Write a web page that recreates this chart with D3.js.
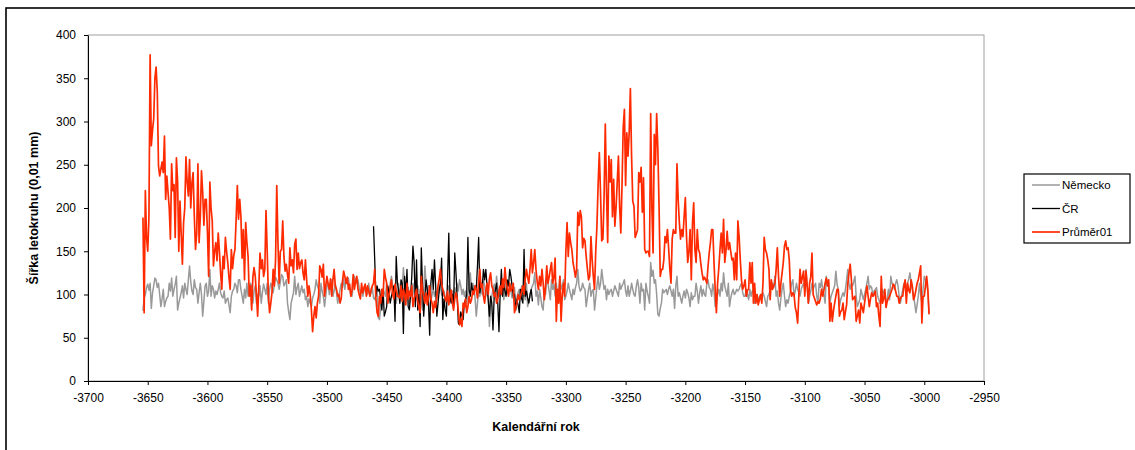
<!DOCTYPE html>
<html>
<head>
<meta charset="utf-8">
<script src="https://cdn.jsdelivr.net/npm/d3@7"></script>
<style>
  html, body { margin: 0; padding: 0; background: #fff; }
  text { font-family: "Liberation Sans", Arial, sans-serif; }
</style>
</head>
<body>
<svg id="chart" width="1135" height="450"></svg>
<script>
// ---------------- DATA ----------------
const xTicks = [-3700,-3650,-3600,-3550,-3500,-3450,-3400,-3350,-3300,-3250,-3200,-3150,-3100,-3050,-3000,-2950];
const yTicks = [0,50,100,150,200,250,300,350,400];
const seriesNames = ["Německo", "ČR", "Průměr01"];

// Německo (gray): yearly values from -3654 to -2996
const nemeckoStart = -3654;
const nemeckoValues = [
  81,96,100,108,112,105,113, 84,102,110,119,117,108,113, 100,86,95,106,86,92,96,
  98,113,104,119,98,106,112, 121,82,90,96,102,110,96, 113,106,100,117,133,115,104,
  100,117,108,106,90,102,113, 100,75,92,110,113,98,104, 129,98,110,106,96,104,100,
  106,113,102,98,96,104,90, 94,96,88,79,98,104,106, 113,110,102,117,117,106,98,
  90,106,96,113,98,108,113, 110,90,104,110,90,100,98, 110,90,102,112,106,100,113, 90,
  106,113,108,102,112,120,117, 113,106,115,123,121,110,113, 117,90,80,71,90,96,102,
  121,100,108,113,98,104,110, 102,106,94,98,86,95,90, 86,96,100,106,117,110,106,
  90,113,104,98,86,98,110, 113,100,108,117,98,104,113, 102,90,98,106,113,108,119,
  106,117,112,119,106,100,98, 110,121,115,113,117,108,102, 106,98,104,110,106,100,113,
  98,102,108,96,94,100,106, 73,71,86,98,106,102,98, 113,106,100,113,121,110,98,
  106,90,100,113,90,98,106, 131,
  113,104,98,108,90,96,104,113,100,92,
  98,110,100,106,96,82,104,133,113,104,
  110,98,92,100,106,98,104,94,108,102,
  113,100,98,104,96,90,102,110,106,96,
  104,98,108,100,113,104,117,110,100,106,
  98,104,90,100,110,125,104,113,108,96,
  75,90,104,98,108,100,117,110,98,106,
  100,63,84,98,106,112,100,121,108,98,
  106,100,112,94,104,117,106,100,113,104,
  96,98,108,90,96,102,106,98,110,98,
  104,94,113,86,92,98,106,110,113,
  125,98,104,88,106,96,86,82,106,100,
  121,113,104,94,117,106,112,98,113,98,
  104,121,106,110,117,94,98,104,113,106,
  100,94,106,100,108,113,129,110,104,106,
  113,108,106,86,96,106,113,98,104,106,
  82,96,110,121,106,112,129,117,106,110,
  94,106,100,104,106,98,104,110,106,102,
  98,113,106,110,113,117,104,98,110,98,
  104,113,106,100,98,110,117,108,90,113,
  104,106,82,113,104,98,90,137,121,128,
  113,117,100,77,75,84,90,106,102,104,
  106,100,106,110,104,98,106,
  84,110,121,98,102,96,90,98,104,96,
  106,102,96,86,102,94,98,98,113,104,
  90,102,110,98,106,100,98,113,117,108,
  106,98,112,104,86,90,100,106,98,113,
  104,125,110,104,98,113,86,96,102,106,
  100,102,106,104,106,110,113,102,98,98,
  106,100,94,106,98,104,102,90,96,100,
  90,98,96,100,102,98,92,86,98,100,
  106,110,113,108,121,98,104,90,82,96,
  106,113,98,86,94,90,98,104,113,117,
  98,104,113,106,102,98,106,110,113,
  106,129,110,90,98,104,113,106,110,113,
  98,90,113,108,117,106,100,90,121,110,
  113,90,98,102,106,110,127,112,106,86,
  94,98,102,98,106,117,129,112,106,113,
  110,115,121,98,86,90,94,106,100,94,
  100,106,113,121,106,110,108,98,104,106,
  108,98,94,90,98,106,102,98,90,96,
  106,94,121,113,110,106,113,117,110,98,
  90,98,106,113,110,106,113,118,125,113,
  106,98,90,79,88,98,113,100,90,106,
  121,117,113,102,79
];

// ČR (black): yearly values from -3461 to -3328
const crStart = -3461;
const crValues = [
  179,140,98,110,104,106,95,82,106,75,
  80,86,110,100,90,98,104,110,69,144,
  113,105,90,117,113,55,121,100,129,86,
  82,100,120,156,137,86,140,82,100,63,
  154,110,75,98,117,105,90,53,113,129,
  106,140,110,75,90,105,113,142,71,95,
  82,75,120,171,98,90,100,86,148,125,
  98,67,65,80,75,71,90,94,100,166,
  106,98,113,104,106,110,106,133,166,102,
  113,108,129,117,129,110,94,75,98,90,
  59,98,105,113,90,57,100,129,98,113,
  104,98,117,110,129,121,110,98,100,82,
  94,88,79,106,95,90,152,98,104,96,
  90,100,106,92
];

// Průměr01 (red): yearly values from -3654 to -2996
const prumerStart = -3654;
const prumerValues = [
  189,79,220,166,150,189,377,272,290,303,
  350,363,334,249,237,245,253,241,283,210,
  237,218,200,164,251,220,227,166,258,231,
  150,208,170,135,183,200,259,230,214,256,
  200,229,241,190,152,171,251,160,190,243,
  218,180,210,210,171,121,230,200,185,133,
  150,160,139,171,150,125,106,144,130,166,
  150,137,120,106,152,130,145,152,187,226,
  187,210,190,142,175,117,183,160,144,98,
  110,82,120,131,121,100,75,110,148,130,
  140,121,129,197,150,
  98,79,90,102,129,110,140,226,160,113,
  150,152,185,144,127,135,123,113,154,133,
  140,125,158,164,129,148,130,137,140,125,
  117,140,117,98,110,100,82,57,75,86,
  73,90,98,133,129,120,135,98,110,121,
  112,106,118,98,117,129,110,106,98,100,
  90,96,115,127,121,113,120,106,112,98,
  105,123,106,115,121,106,100,95,113,102,
  108,112,98,110,104,98,106,110,113,129,
  95,79,75,98,90,106,98,129,120,113,
  90,100,108,117,100,95,112,105,98,98,
  96,110,92,106,100,88,113,95,104,98,
  110,86,95,100,106,92,85,79,121,105,
  98,90,102,88,98,110,95,90,79,92,
  85,98,110,118,129,112,106,100,95,92,
  104,88,98,105,90,82,95,102,96,80,
  65,72,63,90,85,95,79,86,98,90,
  94,104,100,110,106,96,115,129,108,112,
  98,90,105,113,100,118,125,110,106,98,
  102,90,95,104,110,100,118,108,131,115,
  106,98,113,104,108,113,79,85,90,100,
  94,98,104,110,100,118,129,120,113,130,
  152,125,137,
  152,129,115,106,121,110,129,113,94,110,
  133,113,120,129,137,113,120,142,69,106,
  90,121,69,100,113,98,150,183,144,171,
  160,152,137,129,120,129,195,180,197,190,
  154,165,162,144,130,117,121,167,140,121,
  106,150,179,227,264,218,162,164,214,297,
  220,160,260,230,256,190,233,179,200,230,
  260,202,171,226,293,314,226,287,260,287,
  338,260,208,202,166,170,175,241,230,247,
  195,235,152,148,150,150,144,309,200,148,
  285,250,309,268,202,121,129,129,140,167,
  160,175,154,130,113,164,175,
  171,171,251,210,183,164,175,167,190,212,
  167,137,150,175,117,183,206,152,137,175,
  152,148,135,125,117,120,117,113,133,148,
  160,175,175,137,106,79,113,130,152,171,
  148,187,137,150,173,152,160,150,140,142,
  117,148,117,185,167,140,117,106,110,117,
  98,105,106,137,113,137,90,113,90,100,
  88,94,100,90,113,166,152,148,140,129,
  94,117,106,110,113,129,154,121,98,113,
  125,137,156,162,152,154,140,106,98,102,
  100,85,79,67,98,129,113,120,127,
  98,127,110,90,113,120,148,100,96,92,
  88,92,90,95,106,98,105,113,119,110,
  117,69,90,69,81,90,98,106,106,75,
  80,82,90,71,80,88,113,125,135,117,
  94,96,98,69,75,82,67,90,85,79,
  90,100,110,98,86,95,102,98,100,104,
  86,90,75,63,121,90,95,106,85,92,
  96,98,102,106,112,110,104,98,98,90,
  95,98,98,110,117,90,113,105,102,117,
  110,94,98,105,113,117,125,133,67,98,
  98,110,121,106,77
];

// ---------------- CHART ----------------
const svg = d3.select("#chart");
const plot = { left: 88, right: 984, top: 35, bottom: 381 };

const x = d3.scaleLinear().domain([-3700, -2950]).range([plot.left, plot.right]);
const y = d3.scaleLinear().domain([0, 400]).range([plot.bottom, plot.top]);

// outer chart border (only top and left edges fall inside the picture)
svg.append("rect")
  .attr("x", 6).attr("y", 8).attr("width", 1140).attr("height", 460)
  .attr("fill", "none").attr("stroke", "#000").attr("stroke-width", 1.6);

// plot area border
svg.append("rect")
  .attr("x", plot.left).attr("y", plot.top)
  .attr("width", plot.right - plot.left).attr("height", plot.bottom - plot.top)
  .attr("fill", "none").attr("stroke", "#a0a0a0").attr("stroke-width", 1);

const toPoints = (start, vals) => vals.map((v, i) => ({ year: start + i, v }));
const line = d3.line().x(d => x(d.year)).y(d => y(d.v));

const series = [
  { name: seriesNames[0], color: "#999999", width: 1.5, data: toPoints(nemeckoStart, nemeckoValues) },
  { name: seriesNames[1], color: "#000000", width: 1.3, data: toPoints(crStart, crValues) },
  { name: seriesNames[2], color: "#ff2a00", width: 1.7, data: toPoints(prumerStart, prumerValues) }
];

const g = svg.append("g");
series.forEach(s => {
  g.append("path")
    .datum(s.data)
    .attr("fill", "none")
    .attr("stroke", s.color)
    .attr("stroke-width", s.width)
    .attr("stroke-linejoin", "round")
    .attr("d", line);
});

// axes
const xAxis = d3.axisBottom(x).tickValues(xTicks).tickSize(4).tickSizeOuter(0).tickFormat(d3.format("d"));
const yAxis = d3.axisLeft(y).tickValues(yTicks).tickSize(4).tickSizeOuter(0);

const gx = svg.append("g").attr("transform", `translate(0,${plot.bottom})`).call(xAxis);
gx.select(".domain").attr("stroke", "#000");
gx.selectAll(".tick line").attr("stroke", "#000");
gx.selectAll(".tick text")
  .attr("font-size", 12).attr("fill", "#000").attr("dy", "0.71em").attr("y", 12)
  .text(d => String(d));

const gy = svg.append("g").attr("transform", `translate(${plot.left},0)`).call(yAxis);
gy.select(".domain").attr("stroke", "#000");
gy.selectAll(".tick line").attr("stroke", "#000");
gy.selectAll(".tick text").attr("font-size", 12).attr("fill", "#000").attr("x", -12);

// axis titles
svg.append("text")
  .attr("x", 536).attr("y", 431)
  .attr("text-anchor", "middle")
  .attr("font-size", 12.5).attr("font-weight", "bold")
  .text("Kalendářní rok");

svg.append("text")
  .attr("transform", "translate(38,208) rotate(-90)")
  .attr("text-anchor", "middle")
  .attr("font-size", 12.5).attr("font-weight", "bold")
  .text("Šířka letokruhu (0,01 mm)");

// legend
const lg = svg.append("g");
lg.append("rect")
  .attr("x", 1024).attr("y", 174).attr("width", 106).attr("height", 69)
  .attr("fill", "#fff").attr("stroke", "#000").attr("stroke-width", 1.2);
series.forEach((s, i) => {
  const ly = 185 + i * 23.5;
  lg.append("line")
    .attr("x1", 1032).attr("x2", 1060).attr("y1", ly).attr("y2", ly)
    .attr("stroke", s.color).attr("stroke-width", s.width);
  lg.append("text")
    .attr("x", 1062).attr("y", ly).attr("dy", "0.35em")
    .attr("font-size", 11.5).attr("fill", "#000")
    .text(s.name);
});
</script>
</body>
</html>
